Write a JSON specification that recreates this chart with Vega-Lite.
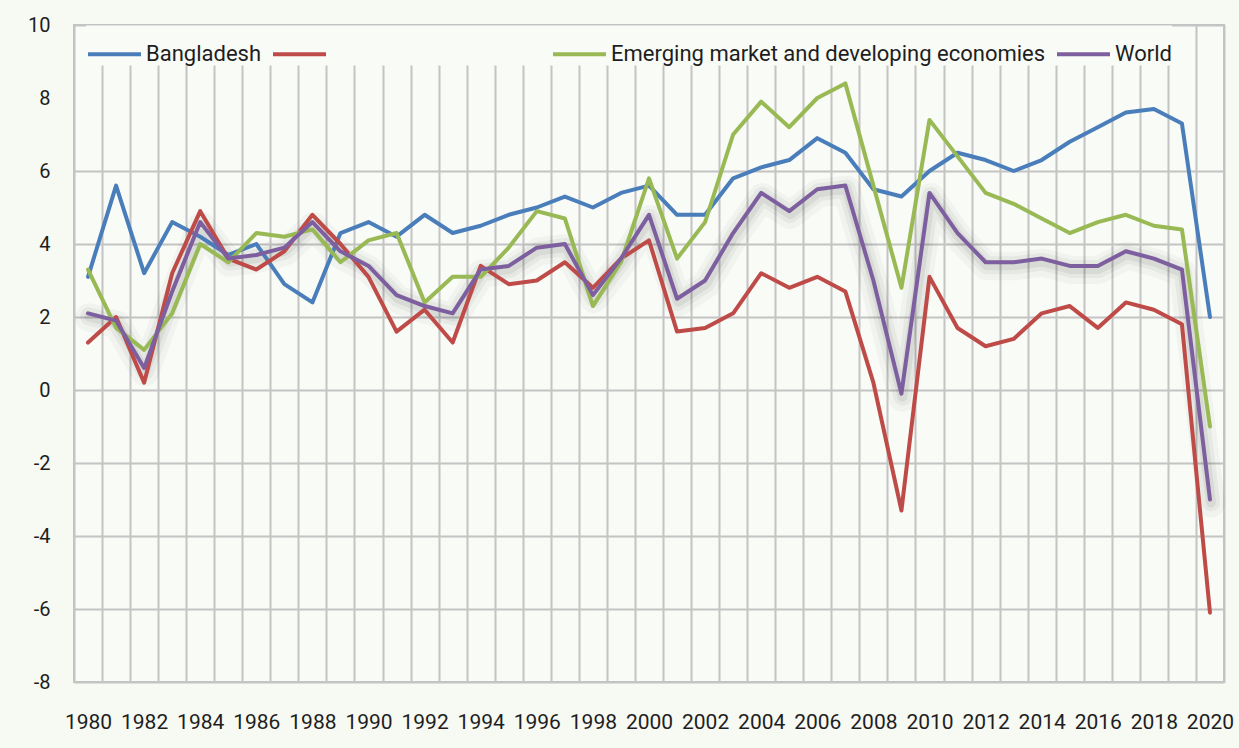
{
  "$schema": "https://vega.github.io/schema/vega-lite/v6.json",
  "width": 1150,
  "height": 657,
  "autosize": {"type": "none"},
  "padding": {"left": 74, "top": 25, "right": 15, "bottom": 66},
  "background": "#f7f9f3",
  "config": {"view": {"stroke": "#c2c2c2", "strokeWidth": 2, "fill": "#f9fbf6"}, "font": "Roboto"},
  "data": {"values": [
    {"year":1980,"series":"Bangladesh","value":3.1},{"year":1981,"series":"Bangladesh","value":5.6},{"year":1982,"series":"Bangladesh","value":3.2},{"year":1983,"series":"Bangladesh","value":4.6},{"year":1984,"series":"Bangladesh","value":4.2},{"year":1985,"series":"Bangladesh","value":3.7},{"year":1986,"series":"Bangladesh","value":4.0},{"year":1987,"series":"Bangladesh","value":2.9},{"year":1988,"series":"Bangladesh","value":2.4},{"year":1989,"series":"Bangladesh","value":4.3},{"year":1990,"series":"Bangladesh","value":4.6},{"year":1991,"series":"Bangladesh","value":4.2},{"year":1992,"series":"Bangladesh","value":4.8},{"year":1993,"series":"Bangladesh","value":4.3},{"year":1994,"series":"Bangladesh","value":4.5},{"year":1995,"series":"Bangladesh","value":4.8},{"year":1996,"series":"Bangladesh","value":5.0},{"year":1997,"series":"Bangladesh","value":5.3},{"year":1998,"series":"Bangladesh","value":5.0},{"year":1999,"series":"Bangladesh","value":5.4},{"year":2000,"series":"Bangladesh","value":5.6},{"year":2001,"series":"Bangladesh","value":4.8},{"year":2002,"series":"Bangladesh","value":4.8},{"year":2003,"series":"Bangladesh","value":5.8},{"year":2004,"series":"Bangladesh","value":6.1},{"year":2005,"series":"Bangladesh","value":6.3},{"year":2006,"series":"Bangladesh","value":6.9},{"year":2007,"series":"Bangladesh","value":6.5},{"year":2008,"series":"Bangladesh","value":5.5},{"year":2009,"series":"Bangladesh","value":5.3},{"year":2010,"series":"Bangladesh","value":6.0},{"year":2011,"series":"Bangladesh","value":6.5},{"year":2012,"series":"Bangladesh","value":6.3},{"year":2013,"series":"Bangladesh","value":6.0},{"year":2014,"series":"Bangladesh","value":6.3},{"year":2015,"series":"Bangladesh","value":6.8},{"year":2016,"series":"Bangladesh","value":7.2},{"year":2017,"series":"Bangladesh","value":7.6},{"year":2018,"series":"Bangladesh","value":7.7},{"year":2019,"series":"Bangladesh","value":7.3},{"year":2020,"series":"Bangladesh","value":2.0},
    {"year":1980,"series":"Advanced economies","value":1.3},{"year":1981,"series":"Advanced economies","value":2.0},{"year":1982,"series":"Advanced economies","value":0.2},{"year":1983,"series":"Advanced economies","value":3.2},{"year":1984,"series":"Advanced economies","value":4.9},{"year":1985,"series":"Advanced economies","value":3.6},{"year":1986,"series":"Advanced economies","value":3.3},{"year":1987,"series":"Advanced economies","value":3.8},{"year":1988,"series":"Advanced economies","value":4.8},{"year":1989,"series":"Advanced economies","value":4.0},{"year":1990,"series":"Advanced economies","value":3.1},{"year":1991,"series":"Advanced economies","value":1.6},{"year":1992,"series":"Advanced economies","value":2.2},{"year":1993,"series":"Advanced economies","value":1.3},{"year":1994,"series":"Advanced economies","value":3.4},{"year":1995,"series":"Advanced economies","value":2.9},{"year":1996,"series":"Advanced economies","value":3.0},{"year":1997,"series":"Advanced economies","value":3.5},{"year":1998,"series":"Advanced economies","value":2.8},{"year":1999,"series":"Advanced economies","value":3.6},{"year":2000,"series":"Advanced economies","value":4.1},{"year":2001,"series":"Advanced economies","value":1.6},{"year":2002,"series":"Advanced economies","value":1.7},{"year":2003,"series":"Advanced economies","value":2.1},{"year":2004,"series":"Advanced economies","value":3.2},{"year":2005,"series":"Advanced economies","value":2.8},{"year":2006,"series":"Advanced economies","value":3.1},{"year":2007,"series":"Advanced economies","value":2.7},{"year":2008,"series":"Advanced economies","value":0.2},{"year":2009,"series":"Advanced economies","value":-3.3},{"year":2010,"series":"Advanced economies","value":3.1},{"year":2011,"series":"Advanced economies","value":1.7},{"year":2012,"series":"Advanced economies","value":1.2},{"year":2013,"series":"Advanced economies","value":1.4},{"year":2014,"series":"Advanced economies","value":2.1},{"year":2015,"series":"Advanced economies","value":2.3},{"year":2016,"series":"Advanced economies","value":1.7},{"year":2017,"series":"Advanced economies","value":2.4},{"year":2018,"series":"Advanced economies","value":2.2},{"year":2019,"series":"Advanced economies","value":1.8},{"year":2020,"series":"Advanced economies","value":-6.1},
    {"year":1980,"series":"Emerging market and developing economies","value":3.3},{"year":1981,"series":"Emerging market and developing economies","value":1.7},{"year":1982,"series":"Emerging market and developing economies","value":1.1},{"year":1983,"series":"Emerging market and developing economies","value":2.1},{"year":1984,"series":"Emerging market and developing economies","value":4.0},{"year":1985,"series":"Emerging market and developing economies","value":3.5},{"year":1986,"series":"Emerging market and developing economies","value":4.3},{"year":1987,"series":"Emerging market and developing economies","value":4.2},{"year":1988,"series":"Emerging market and developing economies","value":4.4},{"year":1989,"series":"Emerging market and developing economies","value":3.5},{"year":1990,"series":"Emerging market and developing economies","value":4.1},{"year":1991,"series":"Emerging market and developing economies","value":4.3},{"year":1992,"series":"Emerging market and developing economies","value":2.4},{"year":1993,"series":"Emerging market and developing economies","value":3.1},{"year":1994,"series":"Emerging market and developing economies","value":3.1},{"year":1995,"series":"Emerging market and developing economies","value":3.9},{"year":1996,"series":"Emerging market and developing economies","value":4.9},{"year":1997,"series":"Emerging market and developing economies","value":4.7},{"year":1998,"series":"Emerging market and developing economies","value":2.3},{"year":1999,"series":"Emerging market and developing economies","value":3.5},{"year":2000,"series":"Emerging market and developing economies","value":5.8},{"year":2001,"series":"Emerging market and developing economies","value":3.6},{"year":2002,"series":"Emerging market and developing economies","value":4.6},{"year":2003,"series":"Emerging market and developing economies","value":7.0},{"year":2004,"series":"Emerging market and developing economies","value":7.9},{"year":2005,"series":"Emerging market and developing economies","value":7.2},{"year":2006,"series":"Emerging market and developing economies","value":8.0},{"year":2007,"series":"Emerging market and developing economies","value":8.4},{"year":2008,"series":"Emerging market and developing economies","value":5.6},{"year":2009,"series":"Emerging market and developing economies","value":2.8},{"year":2010,"series":"Emerging market and developing economies","value":7.4},{"year":2011,"series":"Emerging market and developing economies","value":6.4},{"year":2012,"series":"Emerging market and developing economies","value":5.4},{"year":2013,"series":"Emerging market and developing economies","value":5.1},{"year":2014,"series":"Emerging market and developing economies","value":4.7},{"year":2015,"series":"Emerging market and developing economies","value":4.3},{"year":2016,"series":"Emerging market and developing economies","value":4.6},{"year":2017,"series":"Emerging market and developing economies","value":4.8},{"year":2018,"series":"Emerging market and developing economies","value":4.5},{"year":2019,"series":"Emerging market and developing economies","value":4.4},{"year":2020,"series":"Emerging market and developing economies","value":-1.0},
    {"year":1980,"series":"World","value":2.1},{"year":1981,"series":"World","value":1.9},{"year":1982,"series":"World","value":0.6},{"year":1983,"series":"World","value":2.7},{"year":1984,"series":"World","value":4.6},{"year":1985,"series":"World","value":3.6},{"year":1986,"series":"World","value":3.7},{"year":1987,"series":"World","value":3.9},{"year":1988,"series":"World","value":4.6},{"year":1989,"series":"World","value":3.8},{"year":1990,"series":"World","value":3.4},{"year":1991,"series":"World","value":2.6},{"year":1992,"series":"World","value":2.3},{"year":1993,"series":"World","value":2.1},{"year":1994,"series":"World","value":3.3},{"year":1995,"series":"World","value":3.4},{"year":1996,"series":"World","value":3.9},{"year":1997,"series":"World","value":4.0},{"year":1998,"series":"World","value":2.6},{"year":1999,"series":"World","value":3.6},{"year":2000,"series":"World","value":4.8},{"year":2001,"series":"World","value":2.5},{"year":2002,"series":"World","value":3.0},{"year":2003,"series":"World","value":4.3},{"year":2004,"series":"World","value":5.4},{"year":2005,"series":"World","value":4.9},{"year":2006,"series":"World","value":5.5},{"year":2007,"series":"World","value":5.6},{"year":2008,"series":"World","value":3.0},{"year":2009,"series":"World","value":-0.1},{"year":2010,"series":"World","value":5.4},{"year":2011,"series":"World","value":4.3},{"year":2012,"series":"World","value":3.5},{"year":2013,"series":"World","value":3.5},{"year":2014,"series":"World","value":3.6},{"year":2015,"series":"World","value":3.4},{"year":2016,"series":"World","value":3.4},{"year":2017,"series":"World","value":3.8},{"year":2018,"series":"World","value":3.6},{"year":2019,"series":"World","value":3.3},{"year":2020,"series":"World","value":-3.0}
  ]},
  "encoding": {
    "x": {
      "field": "year", "type": "ordinal",
      "scale": {"type": "band", "paddingInner": 0, "paddingOuter": 0},
      "axis": {
        "title": null, "tickBand": "extent", "grid": true, "gridColor": "#c4c4c4", "gridWidth": 2,
        "ticks": false, "domain": false, "labelAngle": 0, "labelOverlap": false,
        "labelExpr": "datum.value % 2 === 0 ? datum.label : ''",
        "labelFont": "Roboto", "labelFontSize": 21, "labelColor": "#1e1e1e", "labelPadding": 29
      }
    },
    "y": {
      "field": "value", "type": "quantitative",
      "scale": {"domain": [-8, 10], "nice": false, "zero": false},
      "axis": {
        "title": null, "values": [-8, -6, -4, -2, 0, 2, 4, 6, 8, 10],
        "grid": true, "gridColor": "#c4c4c4", "gridWidth": 2,
        "gridOpacity": {"condition": {"test": "datum.value === 8", "value": 0}, "value": 1},
        "ticks": false, "domain": false,
        "labelExpr": "replace(datum.label, '\u2212', '-')",
        "labelFont": "Roboto", "labelFontSize": 20, "labelColor": "#1e1e1e", "labelPadding": 24
      }
    }
  },
  "layer": [
    {
      "transform": [{"filter": "datum.series === 'World'"}],
      "mark": {"type": "line", "stroke": "#000000", "strokeWidth": 28, "opacity": 0.03, "yOffset": 4, "xOffset": 1, "strokeJoin": "round", "strokeCap": "round"},
      "encoding": {}
    },
    {
      "transform": [{"filter": "datum.series === 'World'"}],
      "mark": {"type": "line", "stroke": "#000000", "strokeWidth": 18, "opacity": 0.045, "yOffset": 3, "xOffset": 1, "strokeJoin": "round", "strokeCap": "round"},
      "encoding": {}
    },
    {
      "transform": [{"filter": "datum.series === 'World'"}],
      "mark": {"type": "line", "stroke": "#000000", "strokeWidth": 10, "opacity": 0.06, "yOffset": 3, "xOffset": 1, "strokeJoin": "round", "strokeCap": "round"},
      "encoding": {}
    },
    {
      "mark": {"type": "line", "strokeWidth": 4, "strokeJoin": "round", "strokeCap": "round"},
      "encoding": {
        "color": {
          "field": "series", "type": "nominal",
          "scale": {
            "domain": ["Bangladesh", "Advanced economies", "Emerging market and developing economies", "World"],
            "range": ["#4a7ebb", "#be4b48", "#98b954", "#7d5fa0"]
          },
          "legend": {
            "title": null, "orient": "none", "legendX": 12, "legendY": 0.5,
            "direction": "horizontal", "columns": 4,
            "symbolType": "stroke", "symbolSize": 2809, "symbolStrokeWidth": 4,
            "labelFont": "Roboto", "labelFontSize": 22, "labelOffset": 3, "labelLimit": 800,
            "labelColor": {"expr": "datum.label === 'Advanced economies' ? 'rgba(0,0,0,0)' : '#1e1e1e'"},
            "columnPadding": 3, "padding": 0, "fillColor": "#f9fbf6"
          }
        }
      }
    }
  ]
}
